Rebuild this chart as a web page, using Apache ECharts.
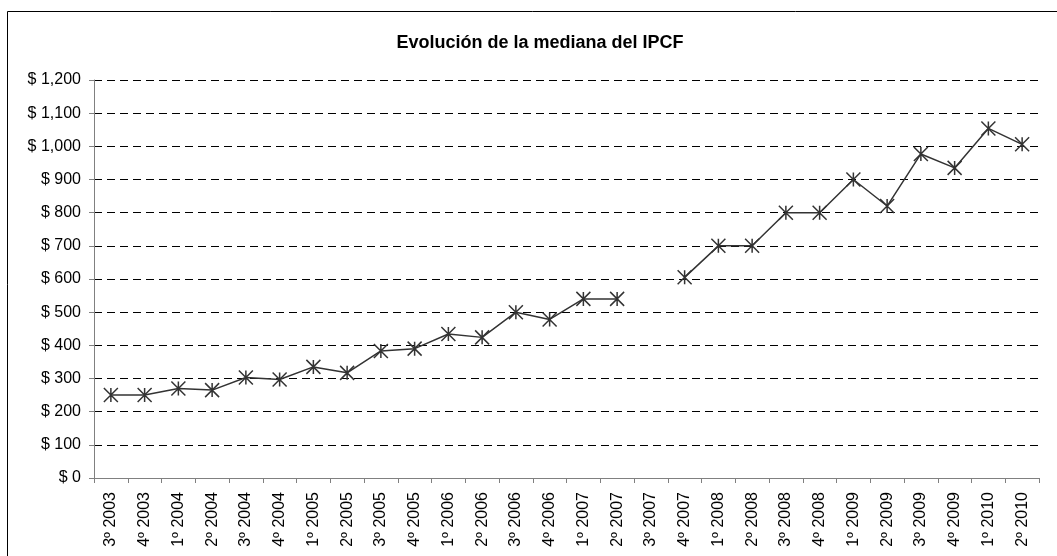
<!DOCTYPE html>
<html>
<head>
<meta charset="utf-8">
<script src="https://cdn.jsdelivr.net/npm/echarts@6/dist/echarts.min.js"></script>
<style>
  html, body { margin: 0; padding: 0; background: #fff; }
  #chart { width: 1057px; height: 556px; }
</style>
</head>
<body>
<div id="chart"></div>
<script>
// === Datos
const TRIMESTRES = [
    "3º 2003", "4º 2003", "1º 2004", "2º 2004", "3º 2004", "4º 2004",
    "1º 2005", "2º 2005", "3º 2005", "4º 2005", "1º 2006", "2º 2006",
    "3º 2006", "4º 2006", "1º 2007", "2º 2007", "3º 2007", "4º 2007",
    "1º 2008", "2º 2008", "3º 2008", "4º 2008", "1º 2009", "2º 2009",
    "3º 2009", "4º 2009", "1º 2010", "2º 2010"
];

// 3º 2007 sin dato
const MEDIANA_IPCF = [
    250, 250, 270, 265, 303, 297,
    335, 317, 383, 390, 434, 424,
    500, 478, 540, 540, null, 605,
    700, 700, 800, 800, 900, 820,
    977, 935, 1054, 1006
];

const Y_MIN = 0;
const Y_MAX = 1200;
const Y_STEP = 100;

// asterisco como en Excel
const ASTERISCO = 'path://M0,0L10,10M10,0L0,10M5,0L5,10';

function formatoPesos(v) {
    return '$ ' + v.toLocaleString('en-US');
}

const chart = echarts.init(document.getElementById('chart'));

chart.setOption({
    animation: false,
    textStyle: { fontFamily: 'Liberation Sans, Arial, sans-serif' },
    title: {
        text: 'Evolución de la mediana del IPCF',
        left: 535,
        top: 29,
        textAlign: 'center',
        textStyle: {
            fontFamily: 'Liberation Sans, Arial, sans-serif',
            fontSize: 18,
            fontWeight: 'bold',
            color: '#000'
        }
    },
    graphic: [{
        type: 'rect',
        shape: { x: 7.5, y: 11.5, width: 1080, height: 600 },
        style: { fill: 'none', stroke: '#000', lineWidth: 1 },
        silent: true
    }],
    grid: {
        left: 94,
        right: 18,
        top: 80,
        bottom: 78
    },
    xAxis: {
        type: 'category',
        data: TRIMESTRES,
        boundaryGap: true,
        axisLine: { lineStyle: { color: '#808080', width: 1 } },
        axisTick: {
            show: true,
            alignWithLabel: false,
            length: 5,
            lineStyle: { color: '#808080' }
        },
        axisLabel: {
            rotate: 90,
            interval: 0,
            margin: 14,
            fontSize: 16,
            color: '#000'
        },
        splitLine: { show: false }
    },
    yAxis: {
        type: 'value',
        min: Y_MIN,
        max: Y_MAX,
        interval: Y_STEP,
        axisLine: { show: true, lineStyle: { color: '#808080', width: 1 } },
        axisTick: { show: true, inside: false, length: 5, lineStyle: { color: '#808080' } },
        axisLabel: {
            formatter: formatoPesos,
            fontSize: 16,
            margin: 13,
            color: '#000'
        },
        splitLine: {
            show: true,
            lineStyle: { color: '#000', type: [8, 5], width: 1 }
        }
    },
    series: [{
        name: 'Mediana IPCF',
        type: 'line',
        data: MEDIANA_IPCF,
        connectNulls: false,
        symbol: ASTERISCO,
        symbolSize: 14,
        showAllSymbol: true,
        lineStyle: { color: '#333', width: 1.5 },
        itemStyle: {
            color: 'none',
            borderColor: '#333',
            borderWidth: 1.5
        }
    }]
});
</script>
</body>
</html>
